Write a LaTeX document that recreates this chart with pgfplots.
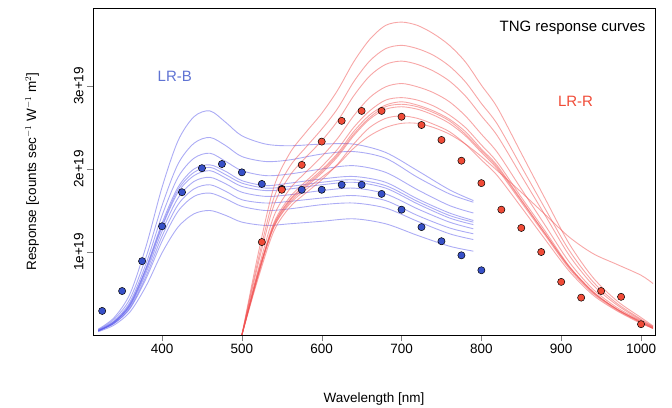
\documentclass[border=0pt]{standalone}
\usepackage{pgfplots}
\pgfplotsset{compat=1.18}
\usepackage{pgfplotstable}
\usetikzlibrary{calc}
\usepackage{fontspec}
\setmainfont{Liberation Sans}
\definecolor{bl}{RGB}{90,90,235}
\definecolor{rd}{RGB}{240,80,80}
\definecolor{bpt}{RGB}{55,80,200}
\definecolor{rpt}{RGB}{240,75,55}
\pgfplotstableread{
x a b c d e f g h i j
320 0.04 0.05 0.05 0.05 0.05 0.05 0.06 0.06 0.07 0.05
340 0.12 0.14 0.14 0.15 0.16 0.16 0.17 0.19 0.21 0.15
360 0.28 0.32 0.33 0.35 0.36 0.38 0.40 0.44 0.50 0.37
380 0.59 0.68 0.71 0.75 0.78 0.81 0.86 0.94 1.07 0.80
400 0.99 1.13 1.19 1.25 1.30 1.35 1.44 1.56 1.78 1.32
420 1.30 1.49 1.57 1.65 1.72 1.78 1.90 2.06 2.34 1.75
440 1.46 1.67 1.76 1.85 1.92 2.00 2.13 2.31 2.63 1.96
460 1.50 1.71 1.81 1.90 1.98 2.05 2.19 2.38 2.70 2.02
480 1.44 1.64 1.73 1.82 1.89 1.97 2.09 2.28 2.56 1.93
500 1.36 1.55 1.63 1.72 1.79 1.86 1.98 2.15 2.40 1.83
530 1.32 1.50 1.59 1.67 1.74 1.80 1.92 2.09 2.30 1.77
560 1.34 1.52 1.61 1.69 1.76 1.83 1.94 2.11 2.28 1.79
600 1.37 1.57 1.65 1.74 1.81 1.88 2.00 2.18 2.30 1.84
640 1.40 1.59 1.68 1.77 1.84 1.91 2.04 2.21 2.30 1.87
680 1.34 1.53 1.62 1.70 1.77 1.84 1.96 2.13 2.20 1.80
720 1.20 1.37 1.44 1.52 1.58 1.64 1.75 1.90 1.98 1.61
760 1.07 1.22 1.29 1.36 1.41 1.47 1.56 1.70 1.75 1.44
790 1.01 1.15 1.22 1.28 1.33 1.38 1.47 1.60 1.62 1.36
}\blue
\pgfplotstableread{
x a b c d e f g h k l
500 0 0 0 0 0 0 0 0 0 0
520 0.67 0.70 0.71 0.73 0.77 0.84 0.89 0.96 0.75 0.72
540 1.25 1.30 1.33 1.35 1.43 1.56 1.65 1.78 1.30 1.32
560 1.54 1.60 1.63 1.66 1.76 1.92 2.03 2.19 1.58 1.62
580 1.71 1.78 1.82 1.85 1.96 2.14 2.26 2.44 1.75 1.80
600 1.87 1.95 1.99 2.03 2.15 2.34 2.48 2.67 1.90 1.97
620 2.06 2.15 2.19 2.24 2.37 2.58 2.73 2.95 2.05 2.17
640 2.30 2.40 2.45 2.50 2.64 2.88 3.05 3.29 2.25 2.42
660 2.50 2.60 2.65 2.70 2.86 3.12 3.30 3.56 2.40 2.62
680 2.61 2.72 2.77 2.83 2.99 3.26 3.45 3.73 2.50 2.75
700 2.64 2.75 2.81 2.86 3.03 3.30 3.49 3.77 2.55 2.78
720 2.61 2.72 2.77 2.83 2.99 3.26 3.45 3.73 2.55 2.75
740 2.54 2.65 2.70 2.76 2.92 3.18 3.37 3.63 2.50 2.68
760 2.45 2.55 2.60 2.65 2.81 3.06 3.24 3.49 2.42 2.58
780 2.30 2.40 2.45 2.50 2.64 2.88 3.05 3.29 2.30 2.42
800 2.11 2.20 2.24 2.29 2.42 2.64 2.79 3.01 2.15 2.22
820 1.92 2.00 2.04 2.08 2.20 2.40 2.54 2.74 1.98 2.02
850 1.54 1.60 1.63 1.66 1.76 1.92 2.03 2.19 1.72 1.62
880 1.15 1.20 1.22 1.25 1.32 1.44 1.52 1.64 1.45 1.22
910 0.77 0.80 0.82 0.83 0.88 0.96 1.02 1.10 1.18 0.82
940 0.48 0.50 0.51 0.52 0.55 0.60 0.64 0.69 0.98 0.52
970 0.29 0.30 0.31 0.31 0.33 0.36 0.38 0.41 0.85 0.31
1000 0.14 0.15 0.15 0.16 0.17 0.18 0.19 0.21 0.72 0.16
1015 0.08 0.08 0.08 0.08 0.09 0.10 0.10 0.11 0.62 0.09
}\red
\begin{document}
\begin{tikzpicture}
\begin{axis}[name=ax, scale only axis, width=562pt, height=327pt,
 xmin=313.5, xmax=1017.5, ymin=0, ymax=3.94,
 xtick={400,500,...,1000}, ytick={1,2,3},
 yticklabels={1e+19,2e+19,3e+19},
 xticklabel style={/pgf/number format/1000 sep={}},
 yticklabel style={rotate=90,anchor=south},
 tick align=outside, tick pos=left, major tick length=6pt,
 xlabel={Wavelength [nm]}, ylabel={Response [counts sec$^{-1}$ W$^{-1}$ m$^2$]},
 ylabel style={yshift=28pt}, xlabel style={yshift=-32pt},
 /pgf/number format/assume math mode=true,
 tick label style={font=\fontsize{13.5}{15}\selectfont},
 label style={font=\fontsize{13.5}{15}\selectfont},
 clip=true]
\foreach \c in {a,b,c,d,e,f,g,h,i,j}{
 \addplot[bl, opacity=0.5, smooth, line width=0.9pt] table[x=x,y=\c]{\blue};}
\foreach \c in {a,b,c,d,e,f,g,h,k,l}{
 \addplot[rd, opacity=0.5, smooth, line width=0.9pt] table[x=x,y=\c]{\red};}
\addplot[only marks, mark=*, mark size=3.6pt, mark options={fill=bpt,draw=black,line width=0.5pt}] coordinates {
(325,0.29)(350,0.53)(375,0.89)(400,1.31)(425,1.72)(450,2.01)(475,2.06)(500,1.96)(525,1.82)(550,1.76)(575,1.75)(600,1.75)(625,1.81)(650,1.81)(675,1.70)(700,1.51)(725,1.30)(750,1.13)(775,0.96)(800,0.78)};
\addplot[only marks, mark=*, mark size=3.6pt, mark options={fill=rpt,draw=black,line width=0.5pt}] coordinates {
(525,1.12)(550,1.75)(575,2.05)(600,2.33)(625,2.58)(650,2.70)(675,2.70)(700,2.63)(725,2.53)(750,2.35)(775,2.10)(800,1.83)(825,1.51)(850,1.29)(875,1.00)(900,0.64)(925,0.45)(950,0.53)(975,0.46)(1000,0.13)};
\node[anchor=east, font=\fontsize{15}{17}\selectfont] at (axis cs:1010,3.7) {TNG response curves};
\node[text=bpt!80!white, font=\fontsize{15}{17}\selectfont] at (axis cs:416,3.12) {LR-B};
\node[text=rpt, font=\fontsize{15}{17}\selectfont] at (axis cs:918,2.82) {LR-R};
\end{axis}
\pgfresetboundingbox
\path[use as bounding box] ($(ax.south west)+(-93pt,-73pt)$) rectangle ($(ax.north east)+(17pt,8pt)$);
\end{tikzpicture}
\end{document}
